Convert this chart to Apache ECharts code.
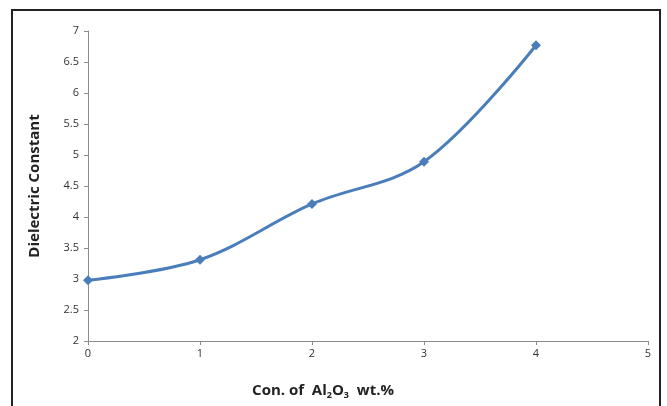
<!DOCTYPE html>
<html><head><meta charset="utf-8">
<script src="https://cdn.jsdelivr.net/npm/echarts@6/dist/echarts.min.js"></script>
<style>html,body{margin:0;padding:0;background:#fff}#c{width:667px;height:406px}</style>
</head><body><div id="c"></div>
<script>
const xValues = [0, 1, 2, 3, 4];
const dielectric = [2.98, 3.31, 4.21, 4.89, 6.77];
const xTicks = [0, 1, 2, 3, 4, 5];
const yTicks = [2, 2.5, 3, 3.5, 4, 4.5, 5, 5.5, 6, 6.5, 7];

const chart = echarts.init(document.getElementById('c'), null, {renderer: 'canvas'});
const fontFam = '"Open Sans", "Liberation Sans", sans-serif';
chart.setOption({
  animation: false,
  grid: {left: 88, right: 19, top: 31, bottom: 65},
  graphic: [{
    type: 'rect', shape: {x: 12, y: 10, width: 648, height: 420},
    style: {fill: 'none', stroke: '#222', lineWidth: 2}, z: -1
  }, {
    type: 'text', x: 323, y: 391,
    style: {
      text: '{n|Con. of  Al}{s|2}{n|O}{s|3}{n|  wt.%}',
      align: 'center', verticalAlign: 'middle',
      rich: {
        n: {fontFamily: fontFam, fontWeight: 'bold', fontSize: 15, fill: '#222'},
        s: {fontFamily: fontFam, fontWeight: 'bold', fontSize: 9, fill: '#222', padding: [8, 0, 0, 0]}
      }
    }
  }, {
    type: 'text', x: 35, y: 186, rotation: Math.PI / 2,
    style: {
      text: 'Dielectric Constant', align: 'center', verticalAlign: 'middle',
      fontFamily: fontFam, fontWeight: 'bold', fontSize: 15, fill: '#222'
    }
  }],
  xAxis: {
    type: 'value', min: xTicks[0], max: xTicks[xTicks.length - 1], interval: 1,
    axisLine: {lineStyle: {color: '#8c8c8c', width: 1}},
    axisTick: {show: true, length: 4, lineStyle: {color: '#8c8c8c'}},
    splitLine: {show: false},
    axisLabel: {fontFamily: fontFam, fontSize: 11, color: '#333', margin: 7}
  },
  yAxis: {
    type: 'value', min: yTicks[0], max: yTicks[yTicks.length - 1], interval: 0.5,
    axisLine: {show: true, lineStyle: {color: '#8c8c8c', width: 1}},
    axisTick: {show: true, length: 4, lineStyle: {color: '#8c8c8c'}},
    splitLine: {show: false},
    axisLabel: {fontFamily: fontFam, fontSize: 11, color: '#333', margin: 9}
  },
  series: [{
    type: 'line', smooth: 0.35,
    data: xValues.map((x, i) => [x, dielectric[i]]),
    symbol: 'diamond', symbolSize: 10,
    lineStyle: {color: '#4a7ebb', width: 3},
    itemStyle: {color: '#4a7ebb'}
  }]
});
</script></body></html>
